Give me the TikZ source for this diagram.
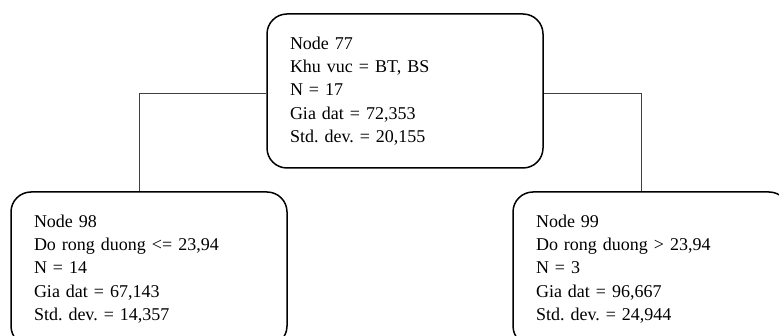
\documentclass[tikz,border=0pt]{standalone}
\usepackage{fontspec}
\setmainfont{Liberation Serif}
\begin{document}
\begin{tikzpicture}[x=1pt,y=-1pt,
  tbox/.style={draw=black, line width=1.5pt, rounded corners=20pt, fill=white,
    minimum width=276pt, minimum height=154pt, text width=230pt, inner xsep=23pt,
    inner ysep=0pt, align=left, font=\fontsize{18}{23.3}\selectfont\frenchspacing},
  conn/.style={draw=black!75, line width=1pt}]
\useasboundingbox (0,0) rectangle (779,336);
\clip (0,0) rectangle (779,336);
\fill[white] (0,0) rectangle (779,336);
\node[tbox] (top) at (405,91) {Node 77\\Khu vuc = BT, BS\\N = 17\\Gia dat = 72,353\\Std. dev. = 20,155};
\node[tbox] (left) at (149,269) {Node 98\\Do rong duong <= 23,94\\N = 14\\Gia dat = 67,143\\Std. dev. = 14,357};
\node[tbox] (right) at (651,269) {Node 99\\Do rong duong > 23,94\\N = 3\\Gia dat = 96,667\\Std. dev. = 24,944};
\coordinate (lk) at (139,94);
\coordinate (rk) at (641,94);
\draw[conn] (lk -| top.west) -- (lk) -- (lk |- left.north);
\draw[conn] (rk -| top.east) -- (rk) -- (rk |- right.north);
\end{tikzpicture}
\end{document}
